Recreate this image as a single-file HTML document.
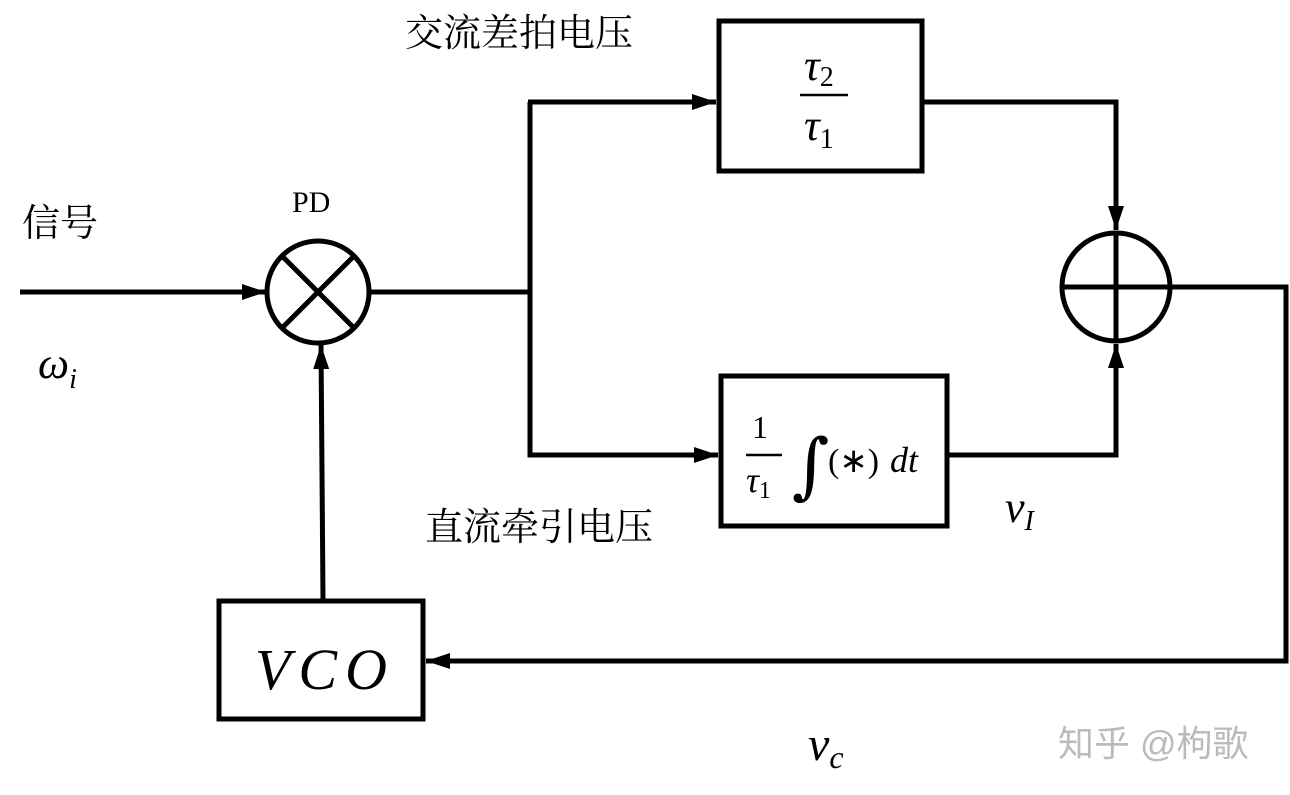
<!DOCTYPE html>
<html><head><meta charset="utf-8"><style>
body{margin:0;background:#fff;}
svg{display:block}
.cn{font-family:"Liberation Serif","Noto Serif CJK SC",serif;font-size:38px;}
.m{font-family:"Liberation Serif","DejaVu Serif",serif;font-style:italic;}
</style></head><body>
<svg width="1290" height="795" viewBox="0 0 1290 795" xmlns="http://www.w3.org/2000/svg">
<defs><marker id="b" markerWidth="24" markerHeight="16" refX="24" refY="8" orient="auto" markerUnits="userSpaceOnUse"><path d="M0,0 L24,8 L0,16z" fill="#000"/></marker></defs>
<g stroke="#000" stroke-width="5" fill="none">
<line x1="20" y1="292" x2="266" y2="292" marker-end="url(#b)"/>
<circle cx="318" cy="292" r="51"/>
<line x1="282" y1="256" x2="354" y2="328"/><line x1="354" y1="256" x2="282" y2="328"/>
<polyline points="369,292 530,292"/>
<polyline points="530,102 530,455 718,455" marker-end="url(#b)"/>
<line x1="528" y1="102" x2="716" y2="102" marker-end="url(#b)"/>
<rect x="719" y="21" width="203" height="150"/>
<rect x="721" y="376" width="226" height="150"/>
<polyline points="923,102 1116,102 1116,230" marker-end="url(#b)"/>
<polyline points="948,455 1116,455 1116,344" marker-end="url(#b)"/>
<circle cx="1116" cy="287" r="54"/>
<line x1="1062" y1="287" x2="1170" y2="287"/><line x1="1116" y1="233" x2="1116" y2="341"/>
<polyline points="1170,287 1286,287 1286,661 426,661" marker-end="url(#b)"/>
<rect x="219" y="601" width="204" height="118"/>
<line x1="323" y1="600" x2="321" y2="345" marker-end="url(#b)"/>
</g>
<text x="405" y="46" class="cn">交流差拍电压</text>
<text x="22" y="236" class="cn">信号</text>
<text x="425" y="540" class="cn">直流牵引电压</text>
<text x="292" y="212" font-family="Liberation Serif" font-size="30">PD</text>
<text x="38" y="378" class="m" font-size="44">ω<tspan font-size="28" dy="10">i</tspan></text>
<text x="804" y="80" class="m" font-size="44">τ<tspan font-style="normal" font-size="28" dy="6">2</tspan></text>
<line x1="800" y1="95" x2="848" y2="95" stroke="#000" stroke-width="2.5"/>
<text x="804" y="140" class="m" font-size="44">τ<tspan font-style="normal" font-size="28" dy="8">1</tspan></text>
<text x="752" y="438" font-family="Liberation Serif" font-size="32">1</text>
<line x1="746" y1="455" x2="782" y2="455" stroke="#000" stroke-width="2.5"/>
<text x="746" y="492" class="m" font-size="36">τ<tspan font-style="normal" font-size="24" dy="6">1</tspan></text>
<text x="792" y="490" font-family="DejaVu Serif" font-size="72">∫</text>
<text x="828" y="472" font-family="Liberation Serif" font-size="34">(∗)</text>
<text x="890" y="472" class="m" font-size="36">dt</text>
<text x="1005" y="522" class="m" font-size="44">v<tspan font-size="28" dy="8">I</tspan></text>
<text x="808" y="760" class="m" font-size="48">v<tspan font-size="32" dy="8">c</tspan></text>
<text x="255" y="689" class="m" font-size="58" letter-spacing="8">VCO</text>
<text x="1058" y="756" font-size="36" fill="#bbb" style="font-family:'Liberation Sans','Noto Sans CJK SC',sans-serif">知乎 @枸歌</text>
</svg>
</body></html>
